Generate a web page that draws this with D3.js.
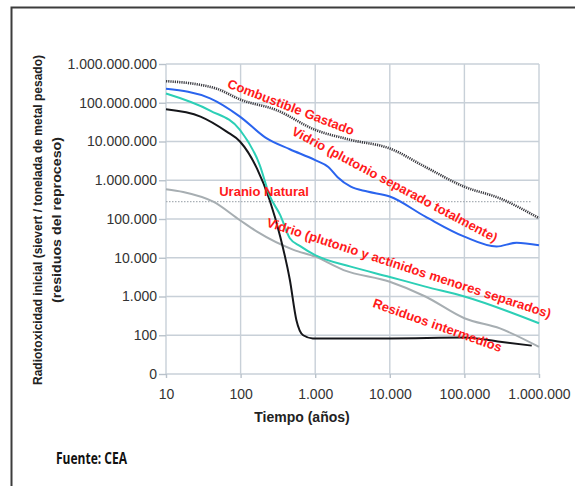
<!DOCTYPE html>
<html>
<head>
<meta charset="utf-8">
<script src="https://cdn.jsdelivr.net/npm/d3@7"></script>
<style>
  body { margin: 0; background: #fff; }
  svg { display: block; font-family: "Liberation Sans", Arial, sans-serif; }
</style>
</head>
<body>
<svg></svg>
<script>
const width = 575;
const height = 486;
const plot = { left: 166, right: 539, top: 64, bottom: 374 };

// ticks
const xTicks = [10, 100, 1000, 10000, 100000, 1000000];
const xTickLabels = ["10", "100", "1.000", "10.000", "100.000", "1.000.000"];
const yTicks = [1e9, 1e8, 1e7, 1e6, 1e5, 1e4, 1e3, 100, 10];
const yTickLabels = ["1.000.000.000", "100.000.000", "10.000.000", "1.000.000", "100.000", "10.000", "1.000", "100", "0"];

// series: [años, radiotoxicidad]
const combustibleGastado = [[10, 3.6e8], [26, 3.0e8], [48, 2.3e8], [100, 1.2e8], [300, 6.5e7], [1000, 2.0e7],
  [3000, 1.1e7], [10000, 6.6e6], [30000, 2.2e6], [100000, 6.8e5], [300000, 3.4e5], [1000000, 1.05e5]];
const vidrioPuSeparado = [[10, 2.3e8], [39, 1.3e8], [98, 4.4e7], [224, 1.2e7], [457, 6.3e6], [1000, 3.3e6],
  [1500, 2.2e6], [2000, 1.2e6], [3000, 6.8e5], [5000, 5.1e5], [10000, 3.8e5], [30000, 1.15e5], [100000, 3.5e4],
  [270000, 1.95e4], [500000, 2.45e4], [1000000, 2.1e4]];
const vidrioActinidos = [[10, 1.74e8], [39, 6.3e7], [98, 2.0e7], [180, 2.5e6], [245, 4e5], [340, 1.26e5],
  [457, 3.2e4], [630, 2.0e4], [1000, 1.17e4], [3000, 5.9e3], [10000, 3.2e3], [30000, 1.8e3], [100000, 1.0e3], [1000000, 204]];
const reprocesoSinVidrio = [[10, 6.8e7], [29, 4.4e7], [65, 1.8e7], [98, 1.0e7], [166, 2.0e6], [245, 3.1e5],
  [340, 3.5e4], [457, 2.7e3], [560, 245], [690, 100], [930, 83], [10000, 83], [100000, 87], [300000, 68], [800000, 54]];
const residuosIntermedios = [[10, 5.9e5], [17, 5.0e5], [43, 2.8e5], [98, 9.3e4], [166, 4.7e4], [513, 1.6e4],
  [1000, 1.07e4], [2400, 4.8e3], [10000, 2.4e3], [30000, 1.0e3], [100000, 275], [300000, 150], [1000000, 50]];
const uranioNatural = [[10, 2.8e5], [800000, 2.8e5]];

let svg = d3.select("svg")
  .attr("width", width)
  .attr("height", height);

const scaleX = d3.scaleLog().domain([10, 1e6]).range([plot.left, plot.right]);
const scaleY = d3.scaleLog().domain([10, 1e9]).range([plot.bottom, plot.top]);

// marco de la figura
svg.append("path")
  .attr("d", `M11.5,${height} V7.5 H${width}`)
  .attr("fill", "none")
  .attr("stroke", "#3c3c3c")
  .attr("stroke-width", 2);

// rejilla
const grid = svg.append("g").attr("stroke", "#c8d0d8").attr("stroke-width", 1.4);
grid.selectAll(".gy").data(yTicks).enter().append("line")
  .attr("x1", plot.left).attr("x2", plot.right)
  .attr("y1", d => scaleY(d)).attr("y2", d => scaleY(d));
grid.selectAll(".gx").data(xTicks).enter().append("line")
  .attr("x1", d => scaleX(d)).attr("x2", d => scaleX(d))
  .attr("y1", plot.top).attr("y2", plot.bottom);

// ejes
const axisX = d3.axisBottom(scaleX)
  .tickValues(xTicks)
  .tickFormat((d, i) => xTickLabels[i])
  .tickSize(4)
  .tickPadding(11);
const gx = svg.append("g")
  .attr("transform", `translate(0, ${plot.bottom})`)
  .call(axisX);

const axisY = d3.axisLeft(scaleY)
  .tickValues(yTicks)
  .tickFormat((d, i) => yTickLabels[i])
  .tickSize(7)
  .tickPadding(2);
const gy = svg.append("g")
  .attr("transform", `translate(${plot.left}, 0)`)
  .call(axisY);

[gx, gy].forEach(g => {
  g.select(".domain").remove();
  g.selectAll(".tick line").attr("stroke", "#b9c2cb").attr("stroke-width", 1.4);
  g.selectAll("text")
    .style("font-family", "'Liberation Sans', Arial, sans-serif")
    .style("font-size", "14px")
    .attr("fill", "#333");
});

// curvas
const line = d3.line()
  .x(d => scaleX(d[0]))
  .y(d => scaleY(d[1]))
  .curve(d3.curveMonotoneX);

function drawSeries(data, color, w, dash) {
  let p = svg.append("path")
    .datum(data)
    .attr("fill", "none")
    .attr("stroke", color)
    .attr("stroke-width", w)
    .attr("stroke-linejoin", "round")
    .attr("d", line);
  if (dash) p.attr("stroke-dasharray", dash);
}

drawSeries(uranioNatural, "#a9b0b6", 1.2, "1.5,1.5");
drawSeries(residuosIntermedios, "#a7aeb2", 2, null);
drawSeries(reprocesoSinVidrio, "#15161a", 2, null);
drawSeries(vidrioActinidos, "#2ccfb6", 2, null);
drawSeries(vidrioPuSeparado, "#2a64ee", 2, null);
drawSeries(combustibleGastado, "#3a3a40", 2.6, "1.2,1");

// etiquetas en rojo
const labels = [
  { text: "Combustible Gastado", year: 474, value: 7.8e7, angle: 21 },
  { text: "Vidrio (plutonio separado totalmente)", year: 11700, value: 7.9e5, angle: 28 },
  { text: "Uranio Natural", year: 206, value: 5.3e5, angle: 0 },
  { text: "Vidrio (plutonio y actínidos menores separados)", year: 18100, value: 5.5e3, angle: 18 },
  { text: "Residuos intermedios", year: 43600, value: 183, angle: 19.5 }
];

svg.selectAll(".lbl")
  .data(labels)
  .enter()
  .append("text")
  .attr("transform", d => `translate(${scaleX(d.year)}, ${scaleY(d.value)}) rotate(${d.angle})`)
  .attr("text-anchor", "middle")
  .attr("dy", "0.36em")
  .attr("fill", "#ff1a1a")
  .style("font-size", "13px")
  .style("font-weight", "bold")
  .text(d => d.text);

// títulos de ejes
svg.append("text")
  .attr("x", 302)
  .attr("y", 422)
  .attr("text-anchor", "middle")
  .attr("fill", "#222")
  .style("font-size", "14px")
  .style("font-weight", "bold")
  .text("Tiempo (años)");

svg.append("text")
  .attr("transform", "translate(42, 220) rotate(-90)")
  .attr("text-anchor", "middle")
  .attr("fill", "#222")
  .attr("textLength", 330)
  .attr("lengthAdjust", "spacingAndGlyphs")
  .style("font-size", "13.5px")
  .style("font-weight", "bold")
  .text("Radiotoxicidad inicial (sievert / tonelada de metal pesado)");

svg.append("text")
  .attr("transform", "translate(61, 220) rotate(-90)")
  .attr("text-anchor", "middle")
  .attr("fill", "#222")
  .attr("textLength", 166)
  .attr("lengthAdjust", "spacingAndGlyphs")
  .style("font-size", "13.5px")
  .style("font-weight", "bold")
  .text("(residuos del reproceso)");

// fuente
svg.append("text")
  .attr("x", 56)
  .attr("y", 464)
  .attr("fill", "#111")
  .attr("textLength", 71)
  .attr("lengthAdjust", "spacingAndGlyphs")
  .style("font-family", "'Liberation Sans Narrow', 'Open Sans', sans-serif")
  .style("font-size", "16px")
  .style("font-weight", "bold")
  .text("Fuente: CEA");
</script>
</body>
</html>
